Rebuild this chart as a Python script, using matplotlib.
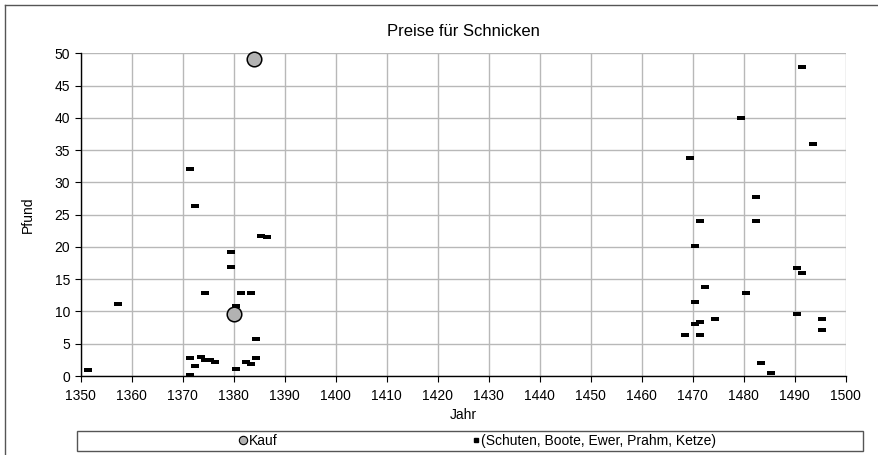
import matplotlib
matplotlib.use("Agg")
import matplotlib.pyplot as plt
from matplotlib.lines import Line2D
from matplotlib.patches import Rectangle

plt.rcParams['font.family'] = ['Liberation Sans', 'DejaVu Sans']

# Kauf (Kaufpreise)
kauf_jahr = [1380, 1384]
kauf_pfund = [9.6, 49.1]

# Schuten, Boote, Ewer, Prahm, Ketze
schiff_jahr = [1351.4, 1357.4, 1371.4, 1372.4, 1374.4, 1371.4, 1371.4, 1372.4,
               1373.5, 1374.4, 1375.4, 1376.4, 1379.4, 1379.4, 1380.5, 1380.5,
               1381.4, 1383.4, 1382.4, 1383.4, 1384.4, 1384.4, 1385.4, 1386.5,
               1491.4, 1479.4, 1493.5, 1469.4, 1482.4, 1471.4, 1482.4, 1470.4,
               1490.4, 1491.4, 1472.4, 1480.4, 1470.4, 1490.4, 1474.4, 1495.4,
               1471.4, 1470.4, 1495.4, 1468.4, 1471.4, 1483.4, 1485.4]
schiff_pfund = [0.9, 11.2, 32.0, 26.4, 12.8, 2.8, 0.2, 1.6,
                2.9, 2.5, 2.5, 2.1, 19.2, 16.9, 10.9, 1.1,
                12.8, 12.8, 2.2, 1.8, 5.7, 2.8, 21.7, 21.6,
                47.9, 39.9, 36.0, 33.8, 27.8, 24.0, 24.0, 20.2,
                16.8, 16.0, 13.8, 12.8, 11.4, 9.6, 8.8, 8.8,
                8.4, 8.0, 7.2, 6.4, 6.4, 2.0, 0.4]

x_ticks = list(range(1350, 1501, 10))
y_ticks = list(range(0, 51, 5))

W, H = 879, 455
fig = plt.figure(figsize=(W / 100, H / 100), dpi=100)
ax = fig.add_axes([80.7 / W, 1 - 376 / H, 765 / W, 322.7 / H])

# Strich-Marker (flaches Rechteck)
dash = [(-1, -0.42), (1, -0.42), (1, 0.42), (-1, 0.42), (-1, -0.42)]
ax.plot(schiff_jahr, schiff_pfund, linestyle='none', marker=dash,
        markersize=5.5, color='black', markeredgewidth=0, zorder=3)
ax.plot(kauf_jahr, kauf_pfund, linestyle='none', marker='o',
        markersize=10.5, markerfacecolor='#b2b2b2', markeredgecolor='black',
        markeredgewidth=1.1, zorder=4, clip_on=False)

ax.set_xlim(1350, 1500)
ax.set_ylim(0, 50)
ax.set_xticks(x_ticks)
ax.set_yticks(y_ticks)
ax.grid(True, color='#b8b8b8', linewidth=1)
ax.set_axisbelow(True)
for s in ['top', 'right']:
    ax.spines[s].set_visible(False)
for s in ['left', 'bottom']:
    ax.spines[s].set_color('black')
    ax.spines[s].set_linewidth(1)
ax.tick_params(direction='out', length=4, width=0.8, labelsize=10)
ax.tick_params(axis='x', pad=5)

ax.set_xlabel('Jahr', fontsize=10, labelpad=4)
ax.set_ylabel('Pfund', fontsize=10, labelpad=14)
fig.text(0.5 * (80.7 + 845.7) / W, 1 - 32 / H, 'Preise für Schnicken',
         ha='center', va='center', fontsize=12)

# Legendenrahmen
fig.patches.append(Rectangle((77 / W, 1 - 451 / H), 786 / W, 20 / H,
                             transform=fig.transFigure, fill=False,
                             edgecolor='#555555', linewidth=1))
h_kauf = Line2D([], [], linestyle='none', marker='o', markersize=6,
                markerfacecolor='#b2b2b2', markeredgecolor='black',
                markeredgewidth=0.8)
h_schiff = Line2D([], [], linestyle='none', marker='s', markersize=3,
                  color='black')
fig.legend([h_kauf, h_schiff], ['Kauf', '(Schuten, Boote, Ewer, Prahm, Ketze)'],
           loc='center', bbox_to_anchor=(478 / W, 1 - 441 / H), ncol=2,
           frameon=False, fontsize=10, handlelength=0.5, handletextpad=0.15,
           columnspacing=14.0, borderpad=0)

# Rahmen um die ganze Grafik (links und oben sichtbar)
fig.add_artist(Line2D([5 / W, 5 / W], [0, 1 - 5 / H], transform=fig.transFigure,
                      color='#555555', linewidth=1))
fig.add_artist(Line2D([5 / W, 1], [1 - 5 / H, 1 - 5 / H], transform=fig.transFigure,
                      color='#555555', linewidth=1))

fig.savefig('out.png', dpi=100)
